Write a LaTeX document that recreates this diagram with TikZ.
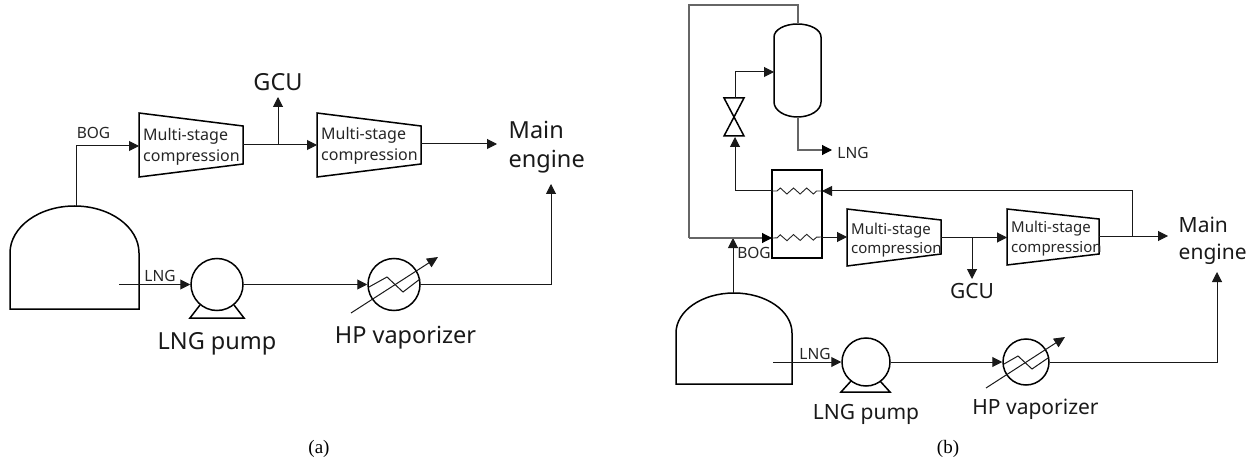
\documentclass[tikz,border=0pt]{standalone}
\usepackage{fontspec}
\setmainfont{Noto Sans}
\newfontfamily\capfont{Liberation Serif}
\usetikzlibrary{arrows.meta,decorations.pathmorphing}
\tikzset{
  thick line/.style={draw=black,line width=1.5pt,line join=miter},
  flow/.style={draw=black!90,line width=1pt,-{Triangle[length=10pt,width=10pt]}},
  pipe/.style={draw=black!60,line width=1.1pt},
  unit/.style={circle,thick line,minimum size=#1,inner sep=0pt,fill=none},
  complabel/.style={inner sep=0pt,align=left,text=black!85,font=\fontsize{16}{21.5}\selectfont},
  complabelb/.style={inner sep=0pt,align=left,text=black!85,font=\fontsize{15}{19.5}\selectfont},
  bigl/.style={inner sep=0pt,text=black!90,font=\fontsize{23.5}{29}\selectfont},
  bigr/.style={inner sep=0pt,text=black!90,font=\fontsize{21}{27}\selectfont},
  smalll/.style={inner sep=0pt,text=black!85,font=\fontsize{15.5}{17}\selectfont},
  caplabel/.style={inner sep=0pt,font=\capfont\fontsize{19}{21}\selectfont},
  coil/.style={draw=black!85,line width=0.9pt,decorate,decoration={zigzag,segment length=13.2pt,amplitude=3pt,pre length=5pt,post length=5pt}}
}
\begin{document}
\begin{tikzpicture}[x=1pt,y=-1pt]
\useasboundingbox[fill=white] (0,0) rectangle (1255,465);

% ---------- (a) ----------
\coordinate (atankbl) at (10,309);
\coordinate (atanktop) at (76,206);
\draw[thick line] (139,253) -- (139,309) -- (atankbl) -- (10,253) arc[start angle=180,end angle=360,x radius=64.5,y radius=47];
\draw[thick line] (139,113) -- (243,126) -- (243,164) -- (139,177) -- cycle;
\draw[thick line] (317,113) -- (421,126) -- (421,164) -- (317,177) -- cycle;
\coordinate (ac1in) at (139,146);
\coordinate (ac1out) at (243,145);
\coordinate (ac2in) at (317,145);
\coordinate (ac2out) at (421,144);
\node[complabel,anchor=west] (ac1t) at (143,147) {Multi-stage\\compression};
\node[complabel,anchor=west] (ac2t) at (321,146) {Multi-stage\\compression};
\draw[flow] (atanktop) |- (ac1in);
\node[smalll] (abog) at (93.5,133) {BOG};
\draw[flow] (ac1out) -- (ac2in);
\coordinate (abr) at (278,145);
\node[bigl] (agcu) at (278,82.5) {GCU};
\coordinate (agcuin) at (278,97);
\draw[flow] (abr) -- (agcuin);
\node[bigl,align=left,anchor=west] (ame) at (508.5,147.5) {Main\\engine};
\coordinate (ameout) at (497,144);
\draw[flow] (ac2out) -- (ameout);
\node[unit=52pt] (apump) at (217,284.5) {};
\draw[thick line] (200,305) -- (190,318) -- (244,318) -- (234,305);
\coordinate (alngs) at (119,284.5);
\draw[flow] (alngs) -- (apump.west);
\node[smalll] (alng) at (160,276) {LNG};
\node[unit=52pt] (avap) at (394,284.5) {};
\draw[flow] (apump.east) -- (avap.west);
\draw[draw=black!90,line width=1pt] (369,287) -- (387,277) -- (403,292) -- (420,279);
\coordinate (aas) at (351,313);
\coordinate (aae) at (438,257);
\draw[draw=black!90,line width=1pt,-{Triangle[length=11pt,width=10pt]}] (aas) -- (aae);
\coordinate (ameb) at (551,184);
\draw[flow] (avap.east) -| (ameb);
\node[bigl] (apt) at (217,344) {LNG pump};
\node[bigl] (avt) at (405.5,337.5) {HP vaporizer};
\node[caplabel] (capa) at (319,449) {(a)};

% ---------- (b) ----------
\draw[thick line] (792,333) -- (792,384) -- (676,384) -- (676,333) arc[start angle=180,end angle=360,x radius=58,y radius=40];
\coordinate (btanktop) at (733,293);
\coordinate (bjoin) at (733,238);
\draw[flow] (btanktop) -- (bjoin);
% vessel
\draw[thick line] (774,37) arc[start angle=180,end angle=360,x radius=23.5,y radius=13] -- (821,102) arc[start angle=0,end angle=180,x radius=23.5,y radius=15] -- cycle;
\coordinate (vtop) at (798,24);
\coordinate (vbot) at (798,117);
\coordinate (vin) at (774,72);
% valve
\draw[thick line] (724,98) -- (744,98) -- (724,136) -- (744,136) -- cycle;
\coordinate (valt) at (735,98);
\coordinate (valb) at (735,137);
% hx
\node[draw=black,line width=1.5pt,minimum width=50pt,minimum height=88pt,inner sep=0pt] (hx) at (797,214) {};
\coordinate (hxul) at (772,191);
\coordinate (hxur) at (822,191);
\coordinate (hxll) at (772,238);
\coordinate (hxlr) at (822,237);
\draw[coil] (hxul) -- (hxur);
\draw[coil] (hxll) -- (hxlr);
% compressors
\draw[thick line] (847,209) -- (941,220) -- (941,254) -- (847,266) -- cycle;
\draw[thick line] (1007,209) -- (1099,219) -- (1099,254) -- (1007,265) -- cycle;
\node[complabelb,anchor=west] (bc1t) at (851,240) {Multi-stage\\compression};
\node[complabelb,anchor=west] (bc2t) at (1011,238.5) {Multi-stage\\compression};
\coordinate (bc1in) at (847,237);
\coordinate (bc1out) at (941,237.5);
\coordinate (bc2in) at (1007,237.5);
\coordinate (bc2out) at (1099,236);
\coordinate (bme) at (1168,236);
\coordinate (btee) at (1132,236);
\coordinate (bbr) at (972,237.5);
\coordinate (bgcuin) at (972,279);
% pipes
\coordinate (loopl) at (689,238);
\coordinate (loopt) at (689,5);
\coordinate (loopr) at (798,5);
\draw[pipe] (vtop) -- (loopr) -- (loopt) -- (loopl);
\draw[pipe,-{Triangle[length=10pt,width=10pt,color=black]}] (loopl) -- (hxll);
\draw[flow] (valt) |- (vin);
\coordinate (blngin) at (832,150);
\draw[pipe,-{Triangle[length=10pt,width=10pt,color=black]}] (vbot) |- (blngin);
\node[smalll] (blng) at (853,153) {LNG};
\draw[flow] (hxul) -| (valb);
\draw[flow] (btee) |- (hxur);
\draw[flow] (hxlr) -- (bc1in);
\draw[flow] (bc1out) -- (bc2in);
\draw[flow] (bc2out) -- (bme);
\draw[flow] (bbr) -- (bgcuin);
\node[bigr] (bgcu) at (972,291) {GCU};
\node[smalll] (bbog) at (754,252.5) {BOG};
\node[bigr,align=left,anchor=west] (bmt) at (1178.5,240.5) {Main\\engine};
% bottom row
\node[unit=48pt] (bpump) at (866,362) {};
\draw[thick line] (851,381) -- (841,392) -- (890,392) -- (880,381);
\coordinate (blngs) at (773,362);
\draw[flow] (blngs) -- (bpump.west);
\node[smalll] (blng2) at (815,353.5) {LNG};
\node[unit=46pt] (bvap) at (1026,362) {};
\draw[flow] (bpump.east) -- (bvap.west);
\draw[draw=black!90,line width=1pt] (1004,364) -- (1018,356) -- (1032,369) -- (1048,358);
\coordinate (bas) at (986,388);
\coordinate (bae) at (1065,337);
\draw[draw=black!90,line width=1pt,-{Triangle[length=11pt,width=10pt]}] (bas) -- (bae);
\coordinate (bmeb) at (1217,272);
\draw[flow] (bvap.east) -| (bmeb);
\node[bigr] (bpt) at (866,414.5) {LNG pump};
\node[bigr] (bvt) at (1035.5,409) {HP vaporizer};
\node[caplabel] (capb) at (948,449) {(b)};
\end{tikzpicture}
\end{document}
